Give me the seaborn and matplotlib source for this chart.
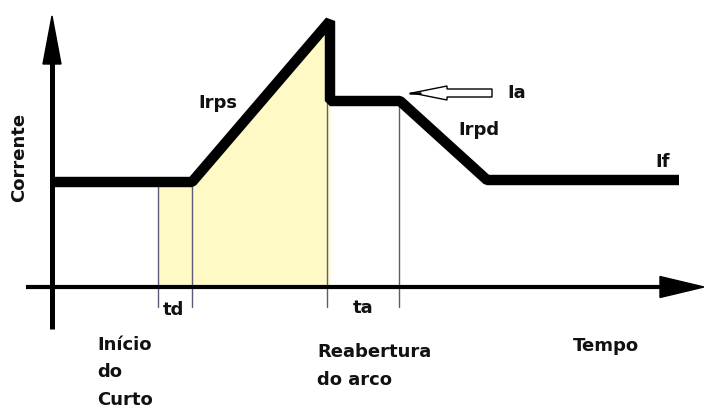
import numpy as np
import pandas as pd
import matplotlib
matplotlib.use("Agg")
import matplotlib.pyplot as plt
from matplotlib.patches import Polygon, FancyArrow
import seaborn as sns

# Current waveform of a short-circuit transfer cycle (arbitrary units)
tempo = [0.0, 14.0, 27.8, 27.8, 34.8, 43.5, 62.7]
corrente = [10.5, 10.5, 26.6, 18.6, 18.6, 10.7, 10.7]

# Instants marked with thin reference lines
marcas_t = [10.6, 14.0, 27.5, 34.7]

# Shaded interval (short-circuit period)
sombra_ini, sombra_fim = 10.6, 27.8

sns.set_theme(style="white")
plt.rcParams["font.family"] = ["DejaVu Sans"]

fig = plt.figure(figsize=(7.04, 4.10), dpi=100)
ax = fig.add_axes([0, 0, 1, 1])
ax.set_xlim(-5.2, 65.2)
ax.set_ylim(-12.2, 28.8)
ax.axis("off")

df = pd.DataFrame({"tempo": tempo, "corrente": corrente})

# Shaded area under the curve
ts = np.array([sombra_ini] + [t for t in tempo if sombra_ini < t < sombra_fim] + [sombra_fim])
ys = np.interp(ts, tempo[:3], corrente[:3])
ax.fill_between(ts, 0, ys, color="#fff9c6", lw=0, zorder=1)

# Thin reference lines, from below the time axis up to the curve
for t in marcas_t:
    if t < tempo[2] - 0.5:
        top = np.interp(t, tempo[:3], corrente[:3])
    else:
        top = corrente[3]
    ax.plot([t, t], [-2.0, top], color="#5b5b7a", lw=1.0, zorder=2)

# Axes with arrowheads
ax.plot([0, 0], [-4.2, 23.0], color="black", lw=3.6, solid_capstyle="butt", zorder=3)
ax.add_patch(Polygon([[-0.9, 22.3], [0.9, 22.3], [0, 27.1]], closed=True,
                     color="black", zorder=3))
ax.plot([-2.6, 61.0], [0, 0], color="black", lw=3.0, solid_capstyle="butt", zorder=3)
ax.add_patch(Polygon([[60.8, -1.05], [60.8, 1.05], [65.2, 0]], closed=True,
                     color="black", zorder=3))

# Current curve
sns.lineplot(data=df, x="tempo", y="corrente", estimator=None, sort=False,
             color="black", lw=7.5, ax=ax, zorder=4,
             solid_joinstyle="bevel", solid_capstyle="butt")

# Hollow pointer arrow to Ia
ax.add_patch(FancyArrow(44.0, 19.4, -8.0, 0, width=0.8, head_width=1.4,
                        head_length=3.5, length_includes_head=True,
                        facecolor="white", edgecolor="black", lw=1.0, zorder=5))
ax.plot([35.8, 36.8], [19.4, 19.4], color="black", lw=1.8, zorder=6)

fs = 13
kw = dict(fontsize=fs, fontweight="bold", color="#111111", va="baseline", ha="left")
ax.text(-3.3, 13.1, "Corrente", rotation=90, ha="center", va="center",
        fontsize=fs, fontweight="bold", color="#111111")
ax.text(14.6, 18.0, "Irps", **kw)
ax.text(45.5, 19.0, "Ia", **kw)
ax.text(40.6, 15.3, "Irpd", **kw)
ax.text(60.3, 12.1, "If", **kw)
ax.text(11.1, -2.7, "td", **kw)
ax.text(30.1, -2.5, "ta", **kw)
for i, linha in enumerate(["Início", "do", "Curto"]):
    ax.text(4.5, -6.2 - 2.75 * i, linha, **kw)
for i, linha in enumerate(["Reabertura", "do arco"]):
    ax.text(26.5, -6.9 - 2.8 * i, linha, **kw)
ax.text(52.1, -6.3, "Tempo", **kw)

fig.savefig("out.png", dpi=100, facecolor="white")
